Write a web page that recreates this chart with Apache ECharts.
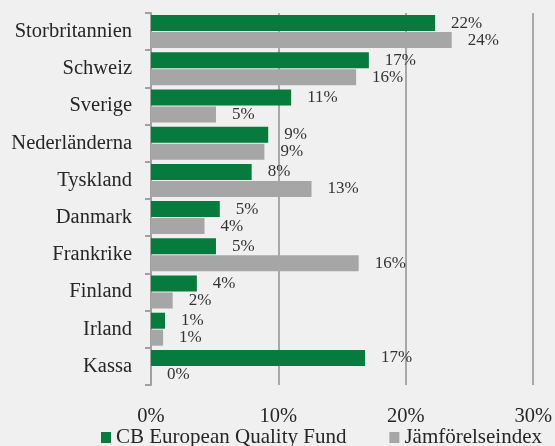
<!DOCTYPE html>
<html>
<head>
<meta charset="utf-8">
<script src="https://cdn.jsdelivr.net/npm/echarts@6/dist/echarts.min.js"></script>
<style>
html,body{margin:0;padding:0;background:#F0F0F0;}
#c{width:555px;height:446px;}
</style>
</head>
<body>
<div id="c"></div>
<script>
const categories = ['Storbritannien','Schweiz','Sverige','Nederländerna','Tyskland','Danmark','Frankrike','Finland','Irland','Kassa'];
const fundValues = [22.3, 17.1, 11.0, 9.2, 7.9, 5.4, 5.1, 3.6, 1.1, 16.8];
const indexValues = [23.6, 16.1, 5.1, 8.9, 12.6, 4.2, 16.3, 1.7, 0.95, 0];
const seriesNames = ['CB European Quality Fund', 'Jämförelseindex'];
const xTicks = [0, 10, 20, 30];

const FONT = '"Liberation Serif", "DejaVu Serif", serif';
const chart = echarts.init(document.getElementById('c'));
const labelCfg = {
  show: true, position: 'right', distance: 16,
  fontFamily: FONT, fontSize: 17, color: '#333333',
  formatter: p => Math.round(p.value) + '%'
};
chart.setOption({
  backgroundColor: '#F0F0F0',
  animation: false,
  grid: {left: 151, right: 18, top: 13, bottom: 61, containLabel: false},
  legend: {
    left: 96, top: 422,
    itemWidth: 10, itemHeight: 11, itemGap: 43,
    icon: 'rect',
    textStyle: {fontFamily: FONT, fontSize: 21, color: '#262626'},
    data: seriesNames
  },
  xAxis: {
    type: 'value', min: xTicks[0], max: xTicks[xTicks.length-1], interval: 10,
    axisLine: {show: false}, axisTick: {show: false},
    splitLine: {show: true, lineStyle: {color: '#A8A8A8', width: 2}},
    axisLabel: {formatter: '{value}%', fontFamily: FONT, fontSize: 20.5, color: '#262626', margin: 21}
  },
  yAxis: {
    type: 'category', data: categories, inverse: true,
    axisLine: {show: true, lineStyle: {color: '#A0A0A0', width: 2}},
    axisTick: {show: true, length: 6, lineStyle: {color: '#A0A0A0', width: 2}},
    axisLabel: {fontFamily: FONT, fontSize: 20.5, color: '#262626', margin: 19}
  },
  series: [
    {name: seriesNames[0], type: 'bar', data: fundValues, barWidth: 16, barGap: '6%',
     itemStyle: {color: '#077A3D'}, label: labelCfg},
    {name: seriesNames[1], type: 'bar', data: indexValues, barWidth: 16,
     itemStyle: {color: '#A6A6A6'}, label: labelCfg}
  ]
});
</script>
</body>
</html>
